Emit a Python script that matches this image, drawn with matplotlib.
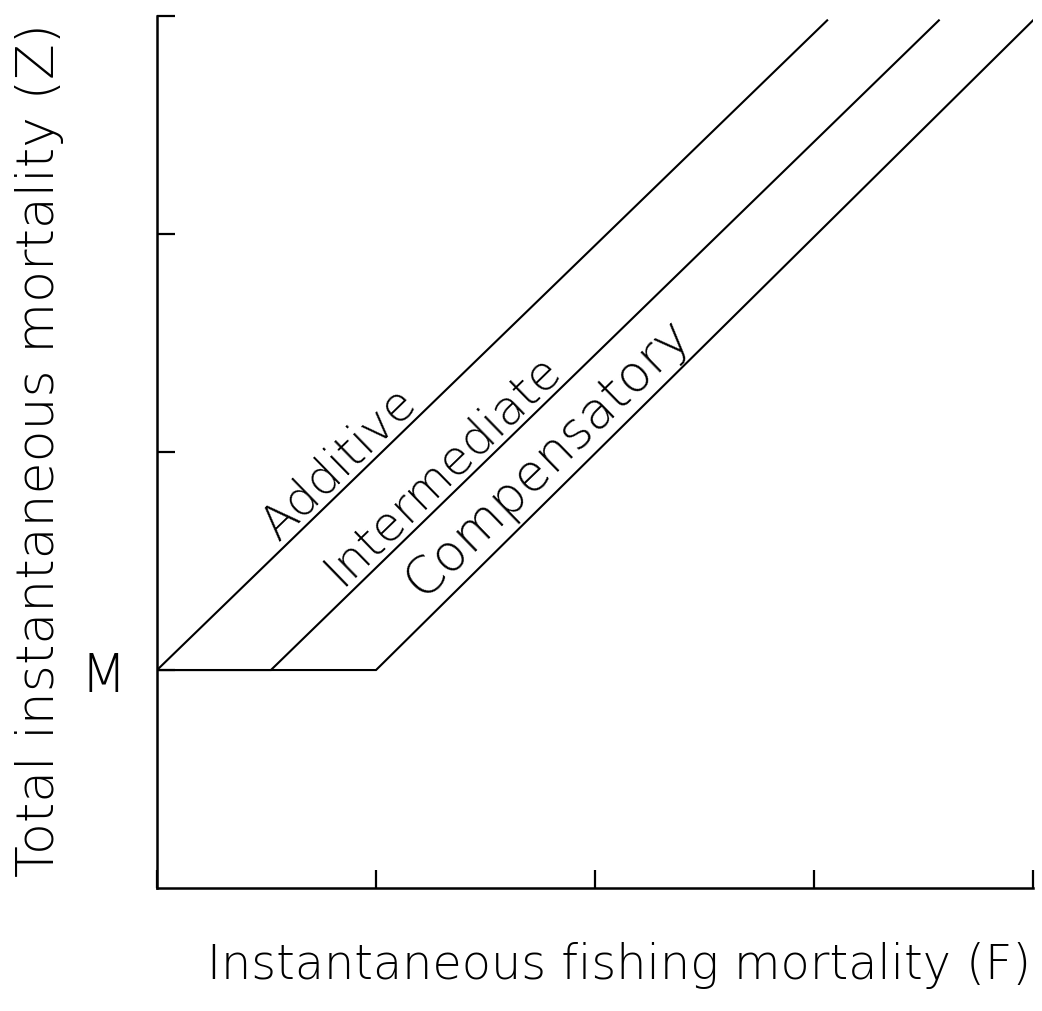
import matplotlib
matplotlib.use("Agg")
import matplotlib.pyplot as plt

# Data (F, Z) breakpoints for each hypothesis
additive_F = [0.0, 3.06]
additive_Z = [1.0, 3.98]
intermediate_F = [0.0, 0.52, 3.57]
intermediate_Z = [1.0, 1.0, 3.98]
compensatory_F = [0.0, 1.0, 4.02]
compensatory_Z = [1.0, 1.0, 4.0]

x_ticks = [0, 1, 2, 3, 4]
y_ticks = [1, 2, 3, 4]
y_tick_labels = ["M", "", "", ""]

lab_font = "DejaVu Sans"
curve_font = "DejaVu Sans"

fig = plt.figure(figsize=(10.42, 10.12), dpi=100)
ax = fig.add_axes([0.1507, 0.1215, 0.8407, 0.8617])
ax.set_xlim(0, 4)
ax.set_ylim(0, 4)

lw = 1.5
ax.plot(additive_F, additive_Z, color="black", lw=lw, solid_joinstyle="miter")
ax.plot(intermediate_F, intermediate_Z, color="black", lw=lw, solid_joinstyle="miter")
ax.plot(compensatory_F, compensatory_Z, color="black", lw=lw, solid_joinstyle="miter")

for s in ["top", "right"]:
    ax.spines[s].set_visible(False)
for s in ["left", "bottom"]:
    ax.spines[s].set_linewidth(1.8)
    ax.spines[s].set_clip_on(False)

ax.set_xticks(x_ticks)
ax.set_xticklabels([])
ax.set_yticks(y_ticks)
ax.set_yticklabels(y_tick_labels, fontsize=38, family=lab_font, fontweight=200)
ax.tick_params(axis="both", direction="in", length=13, width=1.6)
ax.tick_params(axis="y", pad=22)

ax.set_xlabel("Instantaneous fishing mortality (F)", fontsize=34.4, family=lab_font,
              fontweight=200)
ax.xaxis.label.set_va("center")
ax.xaxis.set_label_coords(0.527, -0.088)
ax.set_ylabel("Total instantaneous mortality (Z)", fontsize=37.5, family=lab_font,
              fontweight=200)
ax.yaxis.label.set_va("center")
ax.yaxis.set_label_coords(-0.134, 0.503)

rot = 44.2
ax.text(0.83, 1.95, "Additive", rotation=rot, rotation_mode="anchor",
        ha="center", va="center", fontsize=34.5, family=curve_font, fontweight=200)
ax.text(1.30, 1.925, "Intermediate", rotation=rot, rotation_mode="anchor",
        ha="center", va="center", fontsize=34.5, family=curve_font, fontweight=200)
ax.text(1.785, 1.975, "Compensatory", rotation=rot, rotation_mode="anchor",
        ha="center", va="center", fontsize=37, family=curve_font, fontweight=200)

fig.savefig("out.png", dpi=100, facecolor="white")
